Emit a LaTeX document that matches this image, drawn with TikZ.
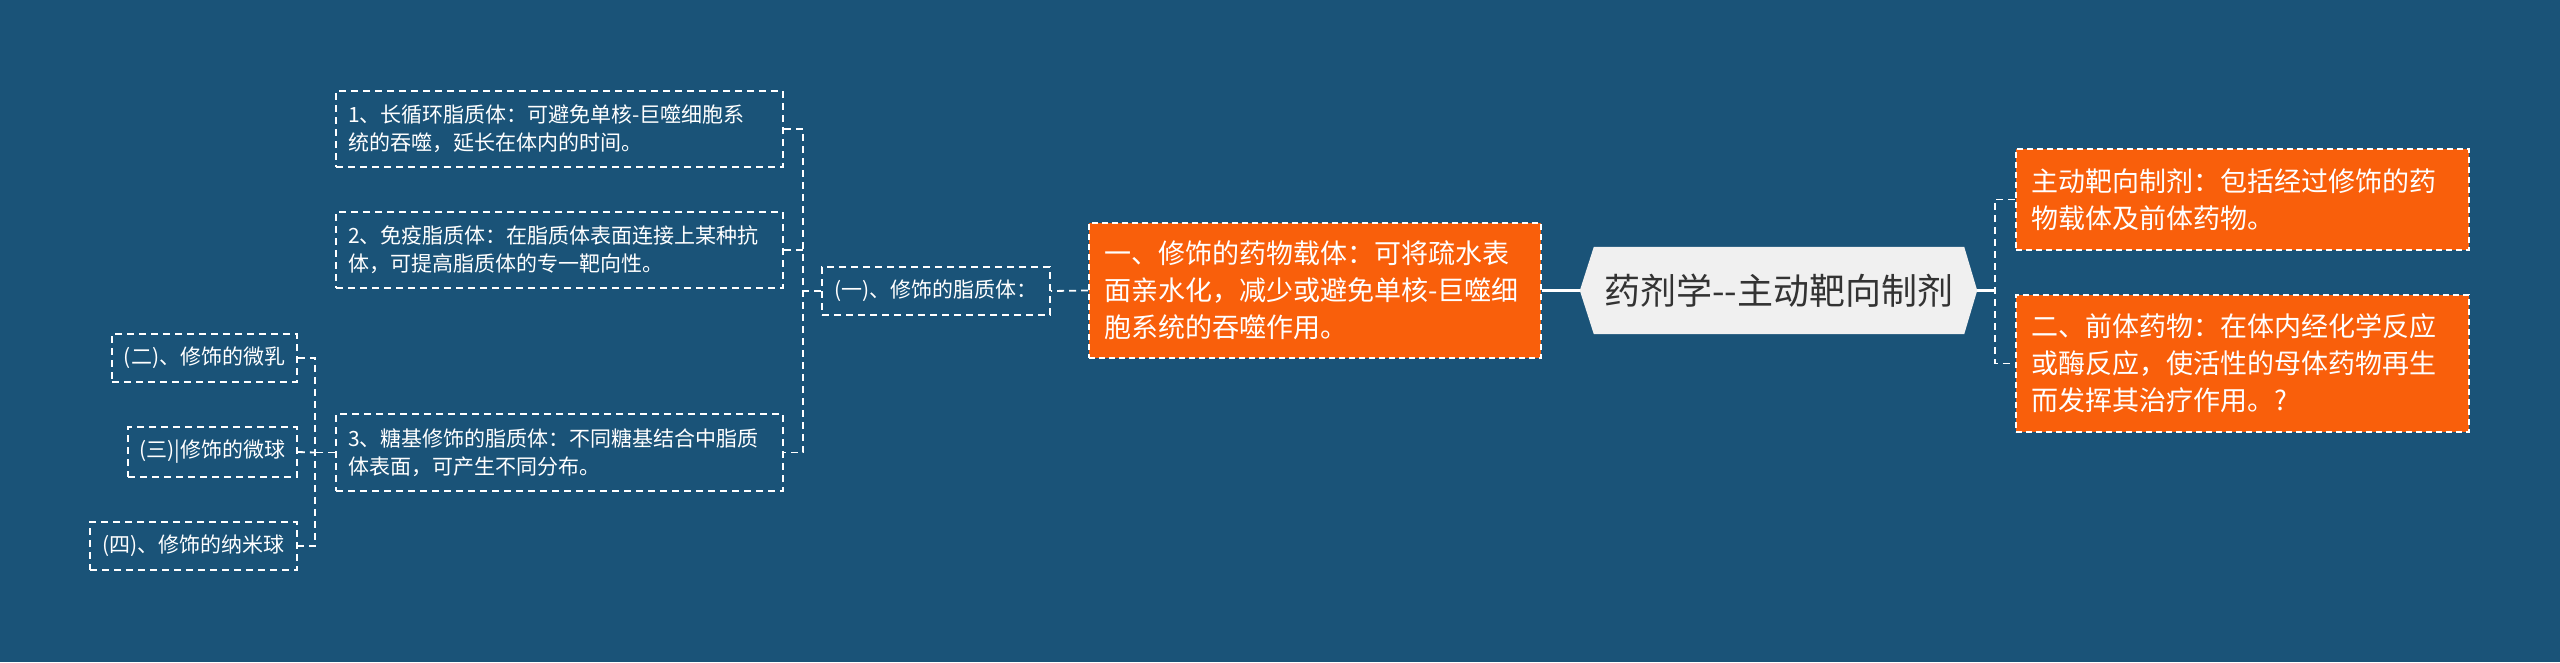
\documentclass[tikz,border=0pt]{standalone}
\usepackage{fontspec}
\setmainfont{Noto Sans CJK SC}
\definecolor{bgblue}{HTML}{1A5378}
\definecolor{orng}{HTML}{F95F0B}
\definecolor{rootfill}{HTML}{F0F0F0}
\definecolor{roottext}{HTML}{333333}
\pgfdeclarelayer{backlayer}
\pgfdeclarelayer{shapelayer}
\pgfsetlayers{backlayer,shapelayer,main}
\tikzset{
  dashln/.style={draw=white, line width=1.8pt, dash pattern=on 7pt off 5pt},
  solidln/.style={draw=white, line width=3pt},
  obox/.style={rectangle, fill=orng, draw=white, line width=1.6pt, dash pattern=on 6pt off 4pt,
    text=white, font=\fontsize{27}{37}\selectfont, align=left, inner xsep=15pt, inner ysep=0pt},
  sbox/.style={rectangle, draw=white, line width=1.6pt, dash pattern=on 7pt off 5pt,
    text=white, font=\fontsize{21}{28}\selectfont, align=left, inner xsep=12pt, inner ysep=0pt},
  lbox/.style={rectangle, draw=white, line width=1.6pt, dash pattern=on 7pt off 5pt,
    text=white, font=\fontsize{21}{28}\selectfont, align=center, inner sep=0pt},
  rootnode/.style={text=roottext, font=\fontsize{36}{40}\selectfont, minimum width=397pt,
    minimum height=87pt, inner sep=0pt}
}
\begin{document}
\begin{tikzpicture}[x=1pt,y=-1pt]
\begin{pgfonlayer}{backlayer}
\fill[bgblue] (0,0) rectangle (2560,662);
\end{pgfonlayer}
\useasboundingbox (0,0) rectangle (2560,662);
% root
\node[rootnode] (root) at (1778.5,290.5) {药剂学-\kern0pt-主动靶向制剂};
\begin{pgfonlayer}{shapelayer}
\fill[rootfill] (root.west) -- ([xshift=14pt]root.north west) -- ([xshift=-13pt]root.north east)
  -- (root.east) -- ([xshift=-13pt]root.south east) -- ([xshift=14pt]root.south west) -- cycle;
\end{pgfonlayer}
% right side
\node[obox, text width=423pt, minimum height=101pt] (r1) at (2242.5,199.5)
  {主动靶向制剂：包括经过修饰的药\\物载体及前体药物。};
\node[obox, text width=423pt, minimum height=137pt] (r2) at (2242.5,363.5)
  {二、前体药物：在体内经化学反应\\或酶反应，使活性的母体药物再生\\而发挥其治疗作用。?};
% left orange
\node[obox, text width=422pt, minimum height=135pt] (lo) at (1315,290.5)
  {一、修饰的药物载体：可将疏水表\\面亲水化，减少或避免单核-巨噬细\\胞系统的吞噬作用。};
% level (一)
\node[lbox, minimum width=228pt, minimum height=48pt] (g1) at (936,291) {(一)、修饰的脂质体：};
% 1,2,3
\node[sbox, text width=423pt, minimum height=76pt] (n1) at (559.5,129)
  {1、长循环脂质体：可避免单核-巨噬细胞系\\统的吞噬，延长在体内的时间。};
\node[sbox, text width=423pt, minimum height=76pt] (n2) at (559.5,250)
  {2、免疫脂质体：在脂质体表面连接上某种抗\\体，可提高脂质体的专一靶向性。};
\node[sbox, text width=423pt, minimum height=77pt] (n3) at (559.5,452.5)
  {3、糖基修饰的脂质体：不同糖基结合中脂质\\体表面，可产生不同分布。};
% (二)(三)(四)
\node[lbox, minimum width=185pt, minimum height=48pt] (e2) at (204.5,358) {(二)、修饰的微乳};
\node[lbox, minimum width=169pt, minimum height=50pt] (e3) at (212.5,452) {(三)|修饰的微球};
\node[lbox, minimum width=207pt, minimum height=48pt] (e4) at (193.5,546) {(四)、修饰的纳米球};
% connectors right
\coordinate (rb) at (1995,290.5);
\draw[solidln] (root.east) -- (rb);
\draw[dashln] (r1.west) -| (rb) |- (r2.west);
% root to left
\draw[solidln] (root.west) -- (lo.east);
\draw[dashln] (lo.west) -- (g1.east);
\coordinate (lb) at (803,291);
\draw[dashln] (g1.west) -- (lb);
\draw[dashln] (n1.east) -| (lb) |- (n3.east);
\draw[dashln] (n2.east) -- (n2.east -| lb);
\coordinate (lb2) at (315,452.5);
\draw[dashln] (n3.west) -- (lb2);
\draw[dashln] (e2.east) -| (lb2) |- (e4.east);
\draw[dashln] (e3.east) -- (lb2);
\end{tikzpicture}
\end{document}
